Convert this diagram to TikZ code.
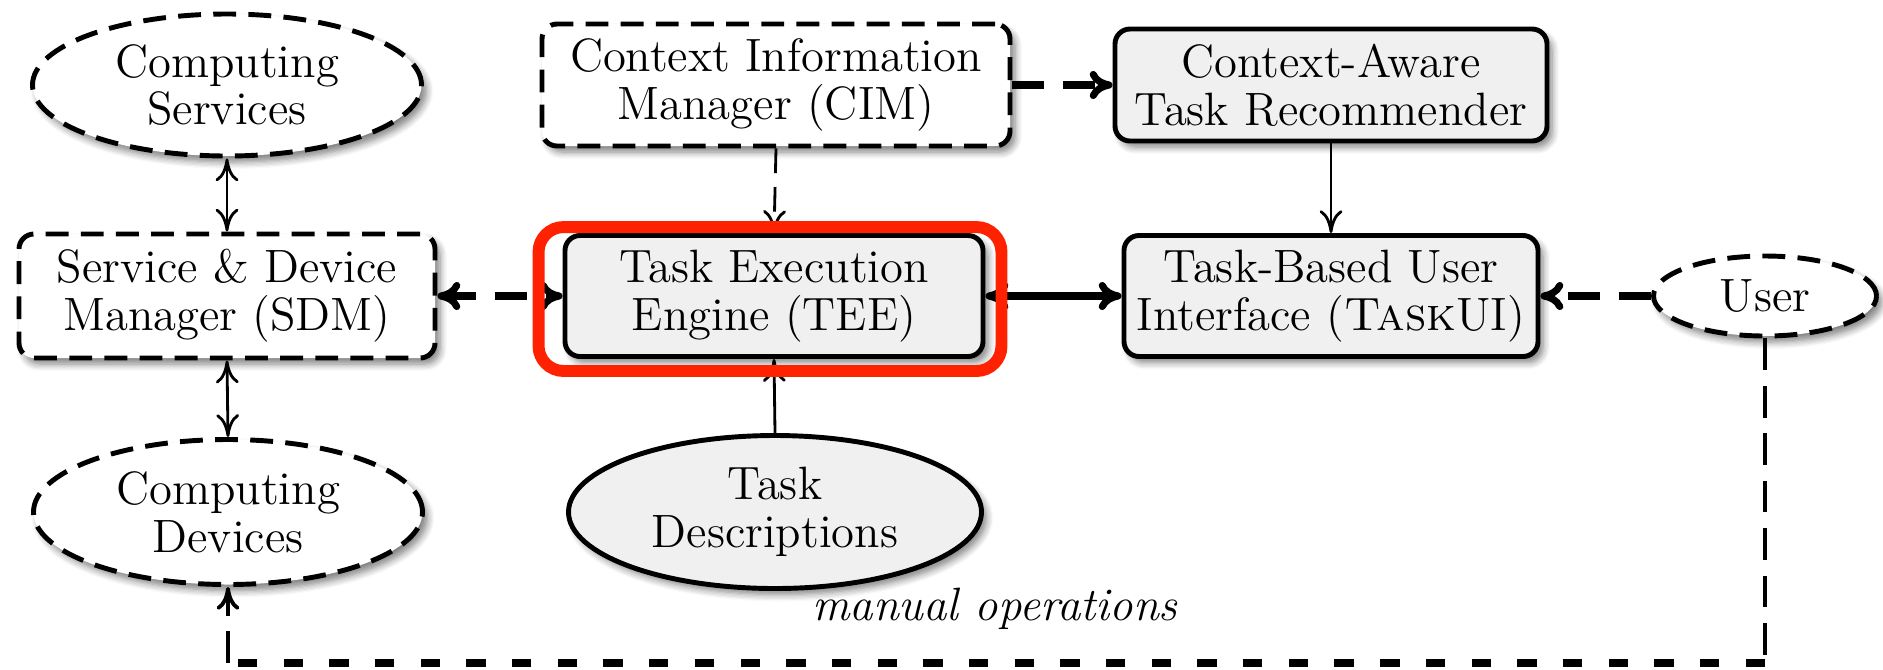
\documentclass[tikz,border=0pt]{standalone}
\usetikzlibrary{shapes.geometric,arrows.meta,shadows.blur,calc}
\definecolor{boxgray}{gray}{0.94}
\definecolor{hl}{RGB}{255,34,0}
\begin{document}
\begin{tikzpicture}[x=1cm,y=-1cm,
  tipthin/.tip={To[length=6.5pt,width=6.5pt]},
  tipthick/.tip={To[length=6.5pt,width=8pt]},
  base/.style={font=\fontsize{13.3}{13.6}\selectfont, align=center, line width=1.4pt, inner sep=0pt,
    blur shadow={shadow xshift=0.5mm, shadow yshift=-0.6mm, shadow blur steps=6, shadow blur radius=0.7mm, shadow opacity=50}},
  solidbox/.style={base, draw, rectangle, rounded corners=1.5mm, fill=boxgray},
  dashbox/.style={base, draw, rectangle, rounded corners=1.5mm, fill=white, dash pattern=on 6.5pt off 3.5pt},
  dashell/.style={base, draw, ellipse, fill=white, dash pattern=on 6.5pt off 3.5pt},
  solidell/.style={base, draw, ellipse, fill=boxgray},
  thinline/.style={line width=0.8pt},
  thindash/.style={line width=0.8pt, dash pattern=on 7pt off 4pt},
  thickline/.style={line width=2pt},
  thickdash/.style={line width=2pt, dash pattern=on 9pt off 5.5pt},
  loopvert/.style={line width=1.1pt, dash pattern=on 9pt off 4.5pt},
  loophoriz/.style={line width=2.4pt, dash pattern=on 5.5pt off 7.5pt},
  hlframe/.style={draw=hl, line width=3.4pt, rounded corners=2.5mm}
]
\useasboundingbox (0,0) rectangle (18.83,6.69);

\node[dashell, minimum width=3.89cm, minimum height=1.42cm] (cs) at (2.27,0.85) {Computing\\Services};
\node[dashbox, minimum width=4.68cm, minimum height=1.22cm] (cim) at (7.76,0.85) {Context Information\\Manager (CIM)};
\node[solidbox, minimum width=4.32cm, minimum height=1.12cm] (catr) at (13.31,0.85) {Context-Aware\\Task Recommender};
\node[dashbox, minimum width=4.16cm, minimum height=1.24cm] (sdm) at (2.27,2.96) {Service \& Device\\Manager (SDM)};
\node[solidbox, minimum width=4.18cm, minimum height=1.21cm] (tee) at (7.74,2.96) {Task Execution\\Engine (TEE)};
\node[solidbox, minimum width=4.14cm, minimum height=1.21cm] (taskui) at (13.31,2.96) {Task-Based User\\Interface (\textsc{Task}UI)};
\node[dashell, minimum width=2.23cm, minimum height=0.80cm] (user) at (17.65,2.96) {User};
\node[dashell, minimum width=3.89cm, minimum height=1.45cm] (cd) at (2.28,5.12) {Computing\\Devices};
\node[solidell, minimum width=4.13cm, minimum height=1.53cm] (td) at (7.75,5.12) {Task\\Descriptions};
\node[font=\fontsize{13.3}{13.6}\selectfont\itshape, anchor=base, inner sep=0pt] (lbl) at (9.95,6.20) {manual operations};

\coordinate (c1) at (user.south |- 0,6.63);
\coordinate (c2) at (cd.south |- 0,6.63);

\draw[thinline, tipthin-tipthin] (cs.south) -- (sdm.north);
\draw[thinline, tipthin-tipthin] (sdm.south) -- (cd.north);
\draw[thickdash, tipthick-tipthick] (sdm.east) -- (tee.west);
\draw[thindash, -tipthin] (cim.south) -- (tee.north);
\draw[thickdash, -tipthick] (cim.east) -- (catr.west);
\draw[thinline, -tipthin] (catr.south) -- (taskui.north);
\draw[thickline, tipthick-tipthick] (tee.east) -- (taskui.west);
\draw[thickdash, -tipthick] (user.west) -- (taskui.east);
\draw[thinline, -tipthin] (td.north) -- (tee.south);
\draw[loopvert] (user.south) -- (c1);
\draw[loophoriz] (c1) -- (c2);
\draw[loopvert, -tipthin] (c2) -- (cd.south);

\draw[hlframe] ($(tee.north west)+(-0.24,-0.06)$) rectangle ($(tee.south east)+(0.16,0.12)$);
\end{tikzpicture}
\end{document}
